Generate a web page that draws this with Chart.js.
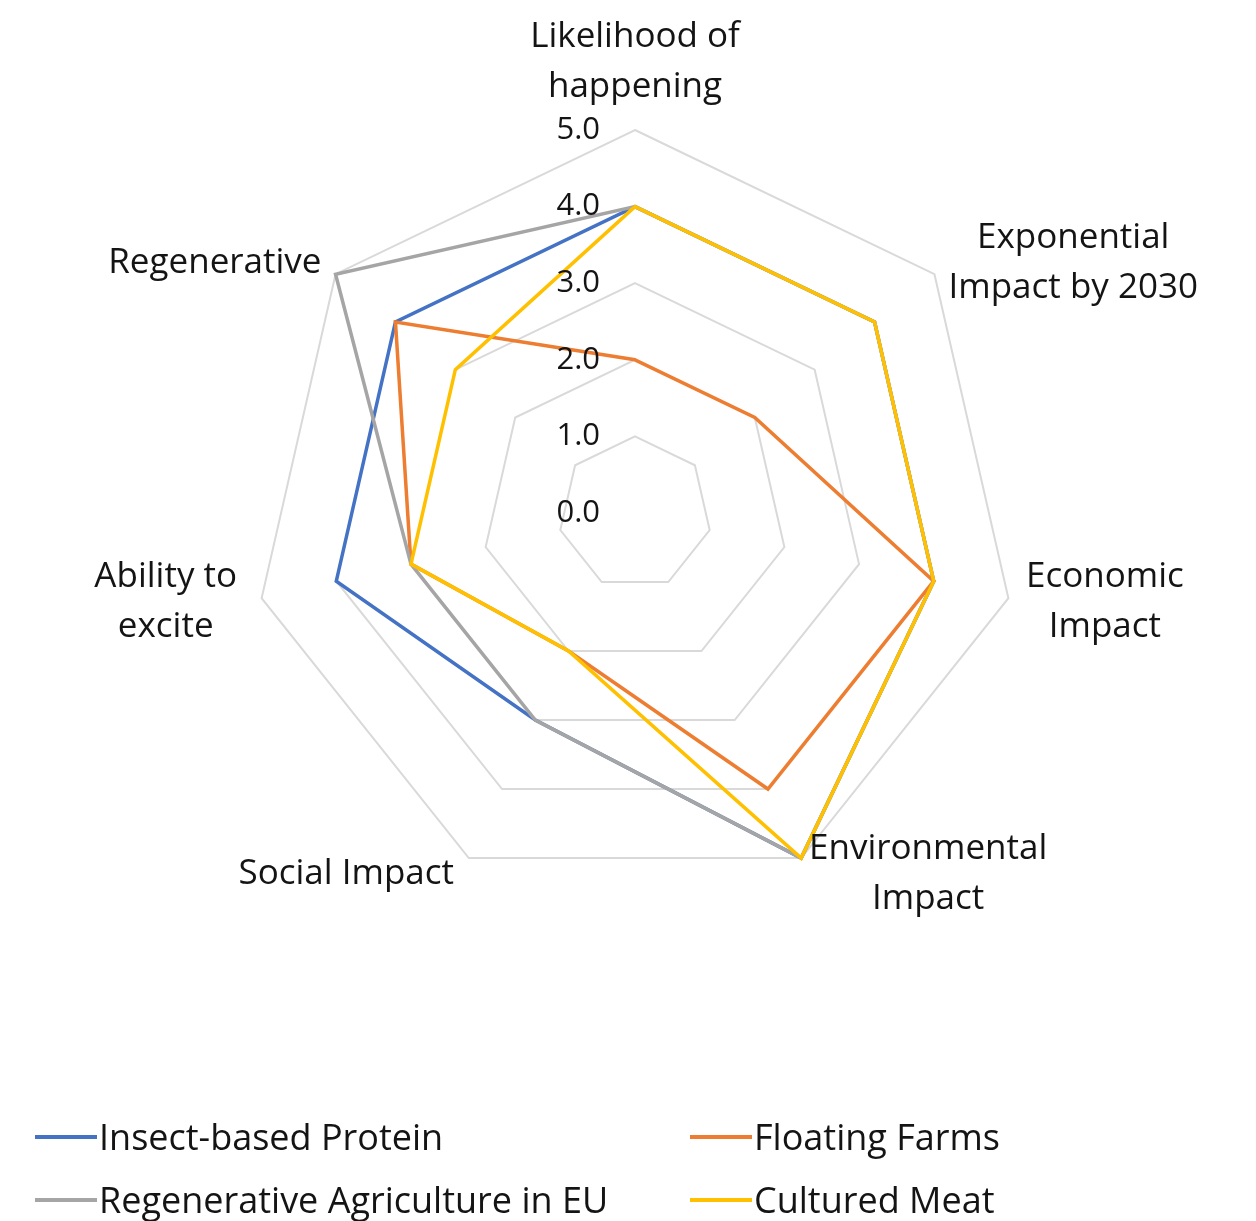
<!DOCTYPE html>
<html>
<head>
<meta charset="utf-8">
<script src="https://cdn.jsdelivr.net/npm/chart.js@4.4.1/dist/chart.umd.min.js"></script>
<style>
    body { margin: 0; background: #fff; font-family: 'Open Sans', sans-serif; color: #141414; }
    .wrap { position: relative; width: 1256px; height: 1221px; }
    #legend {
        position: absolute; left: 35px; top: 1105px;
        display: grid; grid-template-columns: 655px auto;
    }
    .item { display: flex; align-items: center; height: 63px; font-size: 36px; white-space: nowrap; }
    .swatch { width: 62px; height: 4px; margin-right: 2px; }
</style>
</head>
<body>
<div class="wrap">
    <canvas id="radarChart"></canvas>
    <div id="legend"></div>
</div>
<script>
const categories = [
    ['Likelihood of', 'happening'],
    ['Exponential', 'Impact by 2030'],
    ['Economic', 'Impact'],
    ['Environmental', 'Impact'],
    'Social Impact',
    ['Ability to', 'excite'],
    'Regenerative'
];
const tickLabels = ['0.0', '1.0', '2.0', '3.0', '4.0', '5.0'];

const seriesNames = ['Insect-based Protein', 'Floating Farms', 'Regenerative Agriculture in EU', 'Cultured Meat'];
const insectProtein = [4, 4, 4, 5, 3, 4, 4];
const floatingFarms = [2, 2, 4, 4, 2, 3, 4];
const regenAgriculture = [4, 4, 4, 5, 3, 3, 5];
const culturedMeat = [4, 4, 4, 5, 2, 3, 3];

const colors = ['#4472C4', '#ED7D31', '#A5A5A5', '#FFC000'];
const drawOrder = [4, 3, 2, 1]; // yellow on top, blue at the bottom
const textColor = '#141414';

// tick numbers and wrapped axis labels, placed the way Excel puts them
const radarText = {
    id: 'radarText',
    afterDraw(chart) {
        const scale = chart.scales.r;
        const ctx = chart.ctx;
        ctx.save();
        ctx.fillStyle = textColor;

        ctx.font = "31px 'Open Sans'";
        ctx.textAlign = 'right';
        ctx.textBaseline = 'middle';
        scale.ticks.forEach((t, i) => {
            const y = scale.yCenter - scale.getDistanceFromCenterForValue(t.value);
            ctx.fillText(tickLabels[i], scale.xCenter - 35, y);
        });

        ctx.font = "35px 'Open Sans'";
        ctx.textAlign = 'center';
        const lh = 50;
        categories.forEach((lab, i) => {
            const lines = [].concat(lab);
            const a = scale.getIndexAngle(i);
            const sin = Math.sin(a), cos = Math.cos(a);
            const p = scale.getPointPosition(i, scale.drawingArea + 18);
            const w = Math.max(...lines.map(l => ctx.measureText(l).width));
            const h = lines.length * lh;
            let cx = p.x;
            if (sin > 0.01) cx = p.x + w / 2;
            else if (sin < -0.01) cx = p.x - w / 2 - (cos < 0.5 ? 7 : 0);
            let top = p.y - h / 2;
            if (Math.abs(sin) <= 0.01) top = cos > 0 ? p.y - h : p.y;
            lines.forEach((l, j) => ctx.fillText(l, cx, top + lh * j + lh / 2));
        });
        ctx.restore();
    }
};

const series = [insectProtein, floatingFarms, regenAgriculture, culturedMeat];

new Chart(document.getElementById('radarChart'), {
    type: 'radar',
    data: {
        labels: categories,
        datasets: series.map((d, i) => ({
            label: seriesNames[i],
            data: d,
            borderColor: colors[i],
            backgroundColor: 'transparent',
            borderWidth: 3.5,
            pointRadius: 0,
            fill: false,
            order: drawOrder[i]
        }))
    },
    options: {
        responsive: true,
        maintainAspectRatio: false,
        animation: false,
        layout: { padding: { left: 252, right: 238, top: 130, bottom: 325 } },
        plugins: {
            legend: { display: false },
            tooltip: { enabled: false }
        },
        scales: {
            r: {
                min: 0,
                max: 5,
                ticks: { stepSize: 1, display: false },
                grid: { color: '#D9D9D9', lineWidth: 2 },
                angleLines: { display: false },
                pointLabels: { display: false }
            }
        }
    },
    plugins: [radarText]
});

const legendEl = document.getElementById('legend');
seriesNames.forEach((name, i) => {
    const item = document.createElement('div');
    item.className = 'item';
    item.innerHTML = '<span class="swatch" style="background:' + colors[i] + '"></span><span>' + name + '</span>';
    legendEl.appendChild(item);
});
</script>
</body>
</html>
